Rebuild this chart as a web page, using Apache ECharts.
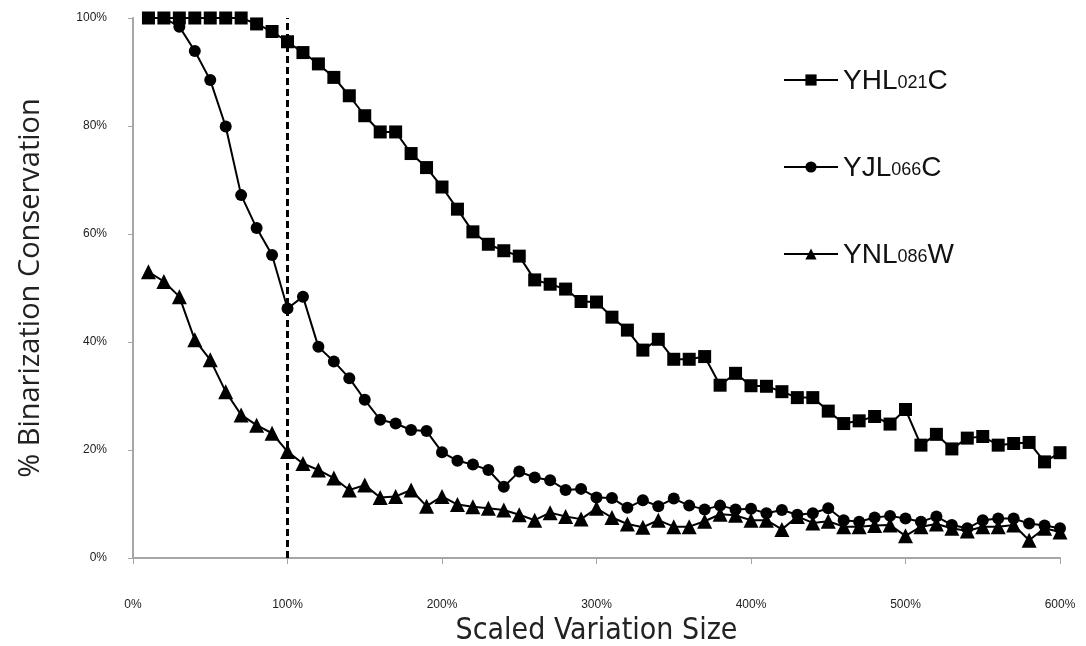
<!DOCTYPE html>
<html>
<head>
<meta charset="utf-8">
<script src="https://cdn.jsdelivr.net/npm/echarts@6/dist/echarts.min.js"></script>
<style>
html,body{margin:0;padding:0;background:#fff;}
#chart{width:1086px;height:646px;}
</style>
</head>
<body>
<div id="chart"></div>
<script>
// Scaled variation size (%)
const sizes = [10,20,30,40,50,60,70,80,90,100,110,120,130,140,150,160,170,180,190,200,
  210,220,230,240,250,260,270,280,290,300,310,320,330,340,350,360,370,380,390,400,
  410,420,430,440,450,460,470,480,490,500,510,520,530,540,550,560,570,580,590,600];

const seriesNames = ['YHL021C', 'YJL066C', 'YNL086W'];

const yhl021c = [100,100,100,100,100,100,100,98.9,97.5,95.6,
  93.6,91.5,89,85.6,81.9,78.9,78.9,74.9,72.3,68.7,
  64.6,60.4,58.1,56.9,55.9,51.5,50.7,49.8,47.5,47.4,
  44.6,42.2,38.5,40.5,36.8,36.8,37.3,32,34.2,31.9,
  31.8,30.8,29.7,29.7,27.2,24.9,25.4,26.2,24.8,27.5,
  20.9,22.9,20.2,22.2,22.5,20.9,21.2,21.4,17.8,19.5];

const yjl066c = [100,100,98.4,93.9,88.5,79.9,67.2,61.1,56.1,46.2,
  48.4,39.1,36.4,33.3,29.3,25.6,24.9,23.7,23.5,19.6,
  18.0,17.3,16.3,13.2,16.0,14.9,14.4,12.6,12.8,11.2,
  11.1,9.3,10.7,9.6,11.0,9.7,9.0,9.7,9.0,9.1,
  8.3,8.9,8.0,8.3,9.2,7.0,6.7,7.5,7.8,7.3,
  6.7,7.7,6.1,5.5,7.0,7.3,7.3,6.4,6.0,5.5];

const ynl086w = [53.0,51.2,48.4,40.4,36.7,30.8,26.5,24.6,23.1,19.7,
  17.5,16.3,14.8,12.6,13.5,11.2,11.4,12.6,9.6,11.4,
  9.9,9.5,9.2,8.9,8.0,7.0,8.4,7.7,7.2,9.2,
  7.5,6.3,5.7,7.0,5.8,5.8,6.8,8.1,7.9,7.0,
  7.0,5.3,7.7,6.5,6.8,5.8,5.8,6.0,6.1,4.1,
  5.8,6.3,5.5,5.0,5.8,5.8,6.1,3.3,5.5,4.8];

const xTicks = [0,100,200,300,400,500,600];
const yTicks = [0,20,40,60,80,100];
const referenceSize = 100;

const xTitle = 'Scaled Variation Size';
const yTitle = '% Binarization Conservation';

function pairs(vals){ return sizes.map((s,i)=>[s, vals[i]]); }

const chart = echarts.init(document.getElementById('chart'), null, {renderer:'canvas'});
const axisGray = '#a6a6a6';
const labelFont = 'Liberation Sans, Arial, sans-serif';

const common = {
  type: 'line',
  lineStyle: {color:'#000', width:2},
  itemStyle: {color:'#000'},
  emphasis: {disabled:true},
  z: 3
};

chart.setOption({
  animation: false,
  backgroundColor: '#fff',
  grid: {left:133, right:26, top:18, bottom:88, containLabel:false, outerBoundsMode:'none'},
  legend: {
    orient: 'vertical',
    left: 783,
    top: 67,
    padding: 0,
    itemWidth: 54,
    itemHeight: 14,
    itemGap: 59,
    data: seriesNames,
    formatter: function(name){
      const m = name.match(/^([A-Z]+)(\d+)([A-Z])$/);
      return '{a|' + m[1] + '}{b|' + m[2] + '}{a|' + m[3] + '}';
    },
    textStyle: {
      rich: {
        a: {fontSize: 28, fontFamily: labelFont, color:'#111', verticalAlign:'bottom', lineHeight:30},
        b: {fontSize: 18, fontFamily: labelFont, color:'#111', verticalAlign:'bottom', lineHeight:30, padding:[0,0,3,0]}
      }
    }
  },
  xAxis: {
    type: 'value',
    min: 0, max: 600, interval: 100,
    name: xTitle,
    nameLocation: 'middle',
    nameGap: 55,
    nameTextStyle: {fontSize: 30, fontFamily: 'Liberation Sans Narrow, DejaVu Sans Condensed, sans-serif', color:'#222'},
    axisLine: {show:true, onZero:false, lineStyle:{color:axisGray, width:2}},
    axisTick: {show:true, length:6, lineStyle:{color:axisGray, width:1}},
    axisLabel: {formatter:'{value}%', margin: 41, fontSize: 12, fontFamily: labelFont, color:'#222'},
    splitLine: {show:false}
  },
  yAxis: {
    type: 'value',
    min: 0, max: 100, interval: 20,
    name: yTitle,
    nameLocation: 'middle',
    nameRotate: 90,
    nameGap: 88,
    nameTextStyle: {fontSize: 29, fontFamily: 'Open Sans, Liberation Sans, sans-serif', color:'#222'},
    axisLine: {show:true, lineStyle:{color:axisGray, width:2}},
    axisTick: {show:true, length:5, lineStyle:{color:axisGray, width:1}},
    axisLabel: {formatter:'{value}%', margin: 26, fontSize: 12, fontFamily: labelFont, color:'#222'},
    splitLine: {show:false}
  },
  series: [
    Object.assign({}, common, {
      name: seriesNames[0], symbol: 'rect', symbolSize: 13,
      data: pairs(yhl021c),
      markLine: {
        silent: true, symbol: 'none', label:{show:false},
        lineStyle: {color:'#000', width:3, type:[7,4]},
        data: [{xAxis: referenceSize}],
        animation: false
      }
    }),
    Object.assign({}, common, {
      name: seriesNames[1], symbol: 'circle', symbolSize: 12,
      data: pairs(yjl066c)
    }),
    Object.assign({}, common, {
      name: seriesNames[2], symbol: 'triangle', symbolSize: 15,
      data: pairs(ynl086w)
    })
  ]
});
</script>
</body>
</html>
